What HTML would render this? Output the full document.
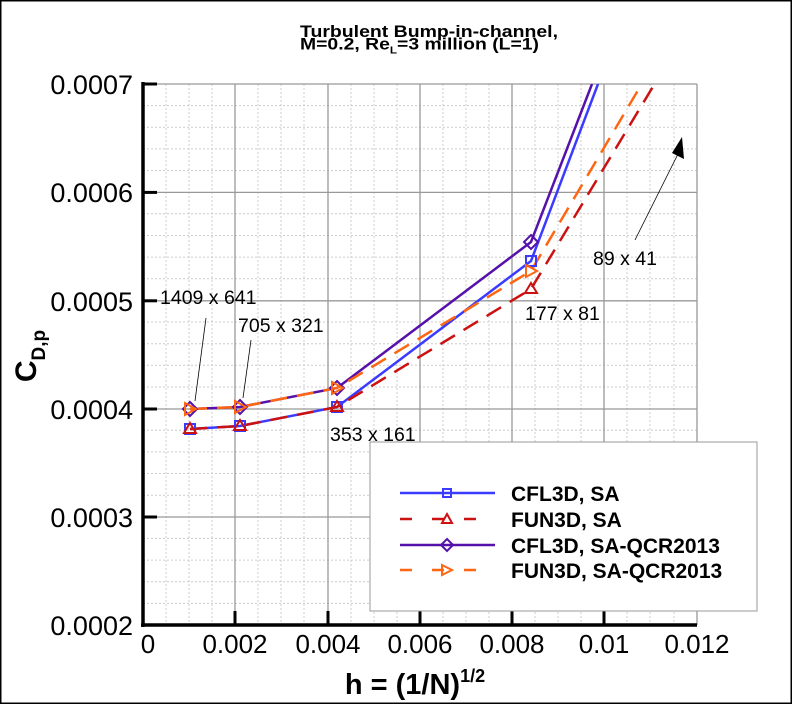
<!DOCTYPE html>
<html><head><meta charset="utf-8"><style>body{margin:0;background:#fff}svg{display:block}text{font-family:"Liberation Sans",sans-serif}</style></head><body>
<svg width="792" height="704" viewBox="0 0 792 704" xmlns="http://www.w3.org/2000/svg">
<defs><clipPath id="c"><rect x="143" y="84" width="554" height="541"/></clipPath></defs>
<rect width="792" height="704" fill="#fff"/>
<g stroke="#ccc" stroke-width="1" stroke-dasharray="2,2">
<line x1="166" y1="84" x2="166" y2="625"/><line x1="189" y1="84" x2="189" y2="625"/><line x1="212" y1="84" x2="212" y2="625"/>
<line x1="258" y1="84" x2="258" y2="625"/><line x1="281" y1="84" x2="281" y2="625"/><line x1="304" y1="84" x2="304" y2="625"/>
<line x1="351" y1="84" x2="351" y2="625"/><line x1="374" y1="84" x2="374" y2="625"/><line x1="397" y1="84" x2="397" y2="625"/>
<line x1="443" y1="84" x2="443" y2="625"/><line x1="466" y1="84" x2="466" y2="625"/><line x1="489" y1="84" x2="489" y2="625"/>
<line x1="535" y1="84" x2="535" y2="625"/><line x1="558" y1="84" x2="558" y2="625"/><line x1="581" y1="84" x2="581" y2="625"/>
<line x1="627" y1="84" x2="627" y2="625"/><line x1="650" y1="84" x2="650" y2="625"/><line x1="674" y1="84" x2="674" y2="625"/>
</g>
<g stroke="#ccc" stroke-width="1" stroke-dasharray="2,2">
<line x1="143" y1="105.6" x2="697" y2="105.6"/><line x1="143" y1="127.3" x2="697" y2="127.3"/><line x1="143" y1="148.9" x2="697" y2="148.9"/><line x1="143" y1="170.6" x2="697" y2="170.6"/>
<line x1="143" y1="213.8" x2="697" y2="213.8"/><line x1="143" y1="235.5" x2="697" y2="235.5"/><line x1="143" y1="257.1" x2="697" y2="257.1"/><line x1="143" y1="278.8" x2="697" y2="278.8"/>
<line x1="143" y1="322" x2="697" y2="322"/><line x1="143" y1="343.7" x2="697" y2="343.7"/><line x1="143" y1="365.3" x2="697" y2="365.3"/><line x1="143" y1="387" x2="697" y2="387"/>
<line x1="143" y1="430.2" x2="697" y2="430.2"/><line x1="143" y1="451.9" x2="697" y2="451.9"/><line x1="143" y1="473.5" x2="697" y2="473.5"/><line x1="143" y1="495.2" x2="697" y2="495.2"/>
<line x1="143" y1="538.4" x2="697" y2="538.4"/><line x1="143" y1="560.1" x2="697" y2="560.1"/><line x1="143" y1="581.7" x2="697" y2="581.7"/><line x1="143" y1="603.4" x2="697" y2="603.4"/>
</g>
<g stroke="#999" stroke-width="1.3">
<line x1="235" y1="84" x2="235" y2="625"/><line x1="328" y1="84" x2="328" y2="625"/><line x1="420" y1="84" x2="420" y2="625"/><line x1="512" y1="84" x2="512" y2="625"/><line x1="604" y1="84" x2="604" y2="625"/><line x1="697" y1="84" x2="697" y2="625"/>
<line x1="143" y1="84" x2="697" y2="84"/><line x1="143" y1="192.4" x2="697" y2="192.4"/><line x1="143" y1="300.8" x2="697" y2="300.8"/><line x1="143" y1="409" x2="697" y2="409"/><line x1="143" y1="517" x2="697" y2="517"/>
</g>
<g stroke="#000" stroke-width="3.5">
<line x1="143" y1="82" x2="143" y2="627"/><line x1="141" y1="625" x2="697" y2="625"/>
</g>
<g stroke="#000" stroke-width="3">
<line x1="143" y1="84" x2="157" y2="84"/><line x1="143" y1="192.4" x2="157" y2="192.4"/><line x1="143" y1="300.8" x2="157" y2="300.8"/><line x1="143" y1="409" x2="157" y2="409"/><line x1="143" y1="517" x2="157" y2="517"/>
<line x1="235" y1="625" x2="235" y2="611"/><line x1="328" y1="625" x2="328" y2="611"/><line x1="420" y1="625" x2="420" y2="611"/><line x1="512" y1="625" x2="512" y2="611"/><line x1="604" y1="625" x2="604" y2="611"/>
</g>
<g font-size="27" text-anchor="end" fill="#000">
<text x="133" y="94">0.0007</text><text x="133" y="202">0.0006</text><text x="133" y="311">0.0005</text><text x="133" y="419">0.0004</text><text x="133" y="527">0.0003</text><text x="133" y="635">0.0002</text>
</g>
<g font-size="26" text-anchor="middle" fill="#000">
<text x="148" y="653">0</text><text x="235" y="653">0.002</text><text x="328" y="653">0.004</text><text x="420" y="653">0.006</text><text x="512" y="653">0.008</text><text x="604" y="653">0.01</text><text x="697" y="653">0.012</text>
</g>
<text x="415" y="694" font-size="29" font-weight="bold" text-anchor="middle">h = (1/N)<tspan font-size="18" dy="-12">1/2</tspan></text>
<text transform="translate(36,356) rotate(-90)" font-size="30" font-weight="bold" text-anchor="middle">C<tspan font-size="19" dy="9">D,p</tspan></text>
<text x="300" y="37" font-size="16.5" font-weight="bold" textLength="258" lengthAdjust="spacingAndGlyphs">Turbulent Bump-in-channel,</text>
<text x="300" y="49.5" font-size="16.5" font-weight="bold" textLength="239" lengthAdjust="spacingAndGlyphs">M=0.2, Re<tspan font-size="10" dy="4">L</tspan><tspan dy="-4">=3 million (L=1)</tspan></text>
<g fill="none" stroke-width="2.5" clip-path="url(#c)">
<polyline stroke="#3b3bff" points="190,429 240,426 337,407 531,261 598,84"/>
<polyline stroke="#cc1111" stroke-dasharray="17,10" points="190,429 240,426 337,407 531,289 663,70"/>
<polyline stroke="#5511aa" points="190,409 240,407 337,388 531,242 592,84"/>
<polyline stroke="#ff6611" stroke-dasharray="17,10" points="190,409 240,407 337,388 531,271 650,70"/>
</g>
<g fill="none" stroke-width="2">
<g stroke="#3b3bff"><rect x="185" y="424" width="10" height="10"/><rect x="235" y="421" width="10" height="10"/><rect x="332" y="402" width="10" height="10"/><rect x="526" y="256" width="10" height="10"/></g>
<g stroke="#cc1111"><path d="M190,423 l6,10 h-12z"/><path d="M240,420 l6,10 h-12z"/><path d="M337,401 l6,10 h-12z"/><path d="M531,283 l6,10 h-12z"/></g>
<g stroke="#5511aa"><path d="M190,402 l7,7 l-7,7 l-7,-7z"/><path d="M240,400 l7,7 l-7,7 l-7,-7z"/><path d="M337,381 l7,7 l-7,7 l-7,-7z"/><path d="M531,235 l7,7 l-7,7 l-7,-7z"/></g>
<g stroke="#ff6611"><path d="M185,403 l11,6 l-11,6z"/><path d="M235,401 l11,6 l-11,6z"/><path d="M332,382 l11,6 l-11,6z"/><path d="M526,265 l11,6 l-11,6z"/></g>
</g>
<g stroke="#000" stroke-width="0.8">
<line x1="195" y1="401" x2="206" y2="318"/><line x1="243" y1="398" x2="251" y2="340"/><line x1="635" y1="240" x2="680" y2="150"/>
</g>
<path d="M682,137 l2,22 l-12,-6z" fill="#000"/>
<g font-size="19.5" fill="#000">
<text x="160" y="304">1409 x 641</text><text x="238" y="332">705 x 321</text><text x="330" y="441">353 x 161</text><text x="525" y="320">177 x 81</text><text x="593" y="265">89 x 41</text>
</g>
<rect x="370" y="442" width="387" height="169" fill="#fff" stroke="#999" stroke-width="1"/>
<g stroke-width="2.5" fill="none">
<line x1="400" y1="493" x2="495" y2="493" stroke="#3b3bff"/><rect x="443" y="489" width="8" height="8" stroke="#3b3bff" stroke-width="2"/>
<line x1="400" y1="519" x2="495" y2="519" stroke="#cc1111" stroke-dasharray="12,20"/><path d="M447,514 l5,9 h-10z" stroke="#cc1111" stroke-width="2"/>
<line x1="400" y1="545" x2="495" y2="545" stroke="#5511aa"/><path d="M447,539 l6,6 l-6,6 l-6,-6z" stroke="#5511aa" stroke-width="2"/>
<line x1="400" y1="570" x2="495" y2="570" stroke="#ff6611" stroke-dasharray="12,20"/><path d="M442,565 l10,5 l-10,5z" stroke="#ff6611" stroke-width="2"/>
</g>
<g font-size="21" font-weight="bold" fill="#000">
<text x="511" y="501">CFL3D, SA</text><text x="511" y="527">FUN3D, SA</text><text x="511" y="553">CFL3D, SA-QCR2013</text><text x="511" y="578">FUN3D, SA-QCR2013</text>
</g>
<rect x="0.75" y="0.75" width="790.5" height="702.5" fill="none" stroke="#000" stroke-width="1.5"/>
</svg>
</body></html>
